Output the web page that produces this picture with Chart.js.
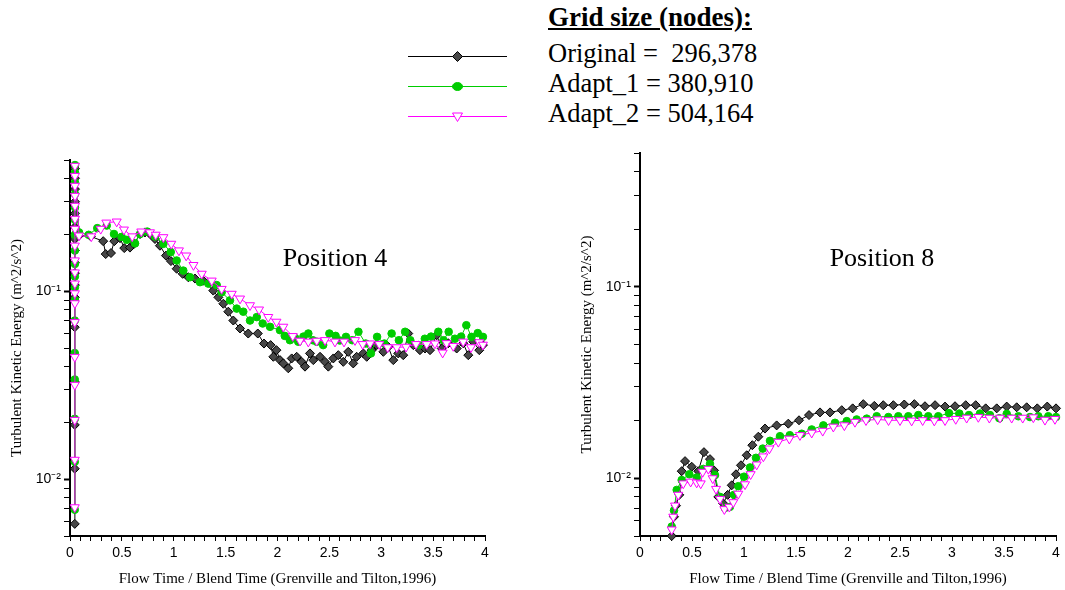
<!DOCTYPE html>
<html>
<head>
<meta charset="utf-8">
<script src="https://cdn.jsdelivr.net/npm/chart.js@4.4.1/dist/chart.umd.min.js"></script>
<style>
  body { margin: 0; background: #fff; width: 1065px; height: 590px; position: relative; overflow: hidden;
         font-family: "Liberation Serif", "Times New Roman", serif; color: #000; }
  .abs { position: absolute; }
  canvas { display: block; }
  #legend-title { left: 548px; top: 4px; font-size: 27px; line-height: 27px; font-weight: bold; text-decoration: underline; }
  .legend-row { left: 548px; font-size: 26.5px; line-height: 28px; white-space: pre; }
  .pos-label { width: 200px; text-align: center; top: 243px; font-size: 26px; line-height: 30px; }
</style>
</head>
<body>
<div class="abs" id="legend-title">Grid size (nodes):</div>
<div id="legend-rows"></div>
<canvas id="legend-marks" class="abs" style="left:400px;top:40px" width="120" height="90"></canvas>
<div class="abs" style="left:0;top:140px"><canvas id="pos4" width="520" height="450"></canvas></div>
<div class="abs" style="left:570px;top:133px"><canvas id="pos8" width="495" height="457"></canvas></div>
<div class="abs pos-label" id="label4" style="left:235px"></div>
<div class="abs pos-label" id="label8" style="left:782px"></div>
<script>
// series labels / titles
var seriesNames = ['Original =  296,378', 'Adapt_1 = 380,910', 'Adapt_2 = 504,164'];
var panelTitles = ['Position 4', 'Position 8'];
var xTitle = 'Flow Time / Blend Time (Grenville and Tilton,1996)';
var yTitle = 'Turbulent Kinetic Energy (m^2/s^2)';
var xMin = 0, xMax = 4, xStep = 0.1, xLabelStep = 0.5;
var yMin = 0.005, yMax = 0.5;

// Position 4: [flow time / blend time, TKE]
var pos4Original = [
  [0.046,0.0058],[0.046,0.0114],[0.046,0.0195],[0.046,0.033],[0.046,0.0645],[0.046,0.093],[0.047,0.108],[0.047,0.125],[0.047,0.142],
  [0.047,0.165],[0.047,0.19],[0.047,0.22],[0.048,0.26],[0.048,0.30],[0.048,0.35],[0.048,0.40],[0.048,0.45],
  [0.087,0.198],[0.20,0.196],[0.32,0.185],[0.344,0.158],[0.395,0.160],[0.427,0.185],[0.482,0.192],[0.523,0.170],[0.578,0.171],[0.617,0.179],
  [0.675,0.202],[0.723,0.206],[0.771,0.202],[0.819,0.190],[0.867,0.175],[0.925,0.155],[0.973,0.145],[1.028,0.132],[1.086,0.124],[1.14,0.119],
  [1.205,0.117],[1.285,0.114],[1.381,0.101],[1.43,0.093],[1.478,0.086],[1.526,0.078],[1.574,0.070],[1.639,0.0635],[1.718,0.0597],[1.81,0.0597],
  [1.87,0.0528],[1.934,0.0518],[1.96,0.0449],[1.99,0.0487],
  [2.024,0.0431],[2.056,0.0414],[2.104,0.039],[2.137,0.044],[2.185,0.0449],[2.233,0.0422],[2.265,0.0398],[2.313,0.0468],[2.345,0.0431],[2.41,0.0449],
  [2.458,0.0422],[2.49,0.0398],[2.538,0.044],[2.586,0.0458],[2.634,0.0422],[2.682,0.0477],[2.73,0.0414],[2.763,0.0449],[2.827,0.0468],[2.86,0.0449],
  [2.908,0.0487],[2.956,0.0518],[3.02,0.0477],[3.068,0.0507],[3.116,0.0431],[3.164,0.0468],[3.212,0.0458],[3.26,0.0597],[3.309,0.0518],[3.373,0.0487],
  [3.422,0.0497],[3.47,0.0487],[3.534,0.0585],[3.583,0.0497],[3.646,0.053],[3.727,0.0497],[3.79,0.053],[3.839,0.0458],[3.887,0.054],[3.945,0.0487],
  [3.98,0.0518]
];
var pos4Adapt1 = [
  [0.046,0.0069],[0.046,0.0124],[0.046,0.021],[0.046,0.034],[0.046,0.047],[0.046,0.07],[0.047,0.09],[0.047,0.105],[0.047,0.12],
  [0.047,0.14],[0.047,0.165],[0.047,0.2],[0.048,0.24],[0.048,0.28],[0.048,0.33],[0.048,0.38],[0.048,0.43],[0.048,0.47],
  [0.087,0.206],[0.18,0.200],[0.263,0.217],[0.354,0.224],[0.424,0.202],[0.498,0.195],[0.547,0.188],[0.627,0.180],[0.675,0.202],[0.745,0.208],
  [0.819,0.196],[0.90,0.179],[0.971,0.162],[1.028,0.146],[1.092,0.129],[1.157,0.119],[1.253,0.112],[1.333,0.110],[1.414,0.108],[1.462,0.099],
  [1.542,0.0896],[1.607,0.081],[1.67,0.078],[1.735,0.070],[1.80,0.073],[1.857,0.0675],[1.928,0.0648],
  [2.024,0.0622],[2.07,0.058],[2.12,0.055],[2.17,0.0565],[2.2,0.054],[2.25,0.0575],[2.297,0.0597],[2.34,0.055],[2.378,0.054],[2.44,0.0518],
  [2.5,0.0597],[2.56,0.058],[2.6,0.0548],[2.66,0.0573],[2.72,0.055],[2.78,0.061],[2.85,0.0528],[2.9,0.0468],[2.96,0.0573],[3.03,0.0528],
  [3.1,0.0597],[3.17,0.055],[3.23,0.061],[3.28,0.055],[3.36,0.0518],[3.42,0.056],[3.48,0.0575],[3.55,0.061],[3.6,0.055],[3.65,0.061],
  [3.71,0.056],[3.77,0.0575],[3.82,0.0661],[3.87,0.0573],[3.93,0.06],[3.98,0.0573]
];
var pos4Adapt2 = [
  [0.046,0.0071],[0.046,0.0127],[0.046,0.0207],[0.046,0.0318],[0.046,0.0448],[0.046,0.0686],[0.047,0.0864],[0.047,0.0976],[0.047,0.110],
  [0.047,0.126],[0.047,0.146],[0.047,0.175],[0.048,0.215],[0.048,0.243],[0.048,0.285],[0.048,0.322],[0.048,0.364],[0.048,0.411],[0.048,0.465],
  [0.087,0.198],[0.205,0.196],[0.296,0.215],[0.35,0.232],[0.45,0.235],[0.52,0.213],[0.60,0.196],[0.687,0.208],[0.771,0.206],[0.826,0.200],
  [0.90,0.194],[0.976,0.179],[1.05,0.165],[1.12,0.155],[1.19,0.138],[1.27,0.124],[1.366,0.114],[1.462,0.103],[1.559,0.097],[1.639,0.0915],
  [1.735,0.0843],[1.822,0.080],[1.911,0.073],[1.99,0.0689],[2.056,0.0648],[2.147,0.0578],[2.217,0.0546],[2.297,0.054],[2.378,0.0546],[2.458,0.055],
  [2.554,0.054],[2.641,0.054],[2.747,0.055],[2.821,0.0524],[2.892,0.0528],[2.981,0.0524],[3.062,0.0504],[3.149,0.0504],[3.239,0.0507],[3.335,0.0524],
  [3.438,0.0524],[3.518,0.0528],[3.592,0.0472],[3.63,0.053],[3.694,0.0512],[3.79,0.054],[3.865,0.0504],[3.945,0.0536],[3.98,0.052]
];

// Position 8
var pos8Original = [
  [0.305,0.0050],[0.327,0.0063],[0.346,0.0072],[0.378,0.0082],[0.401,0.0109],[0.433,0.0123],[0.497,0.0115],[0.56,0.0109],[0.615,0.0137],[0.673,0.0126],
  [0.712,0.0110],[0.753,0.0080],[0.80,0.0074],[0.843,0.0082],[0.882,0.0092],[0.923,0.0105],[0.971,0.0117],[1.026,0.0132],[1.08,0.0149],[1.138,0.0165],
  [1.202,0.0182],[1.314,0.0189],[1.426,0.0193],[1.529,0.0201],[1.625,0.0214],[1.731,0.0221],[1.827,0.0221],[1.94,0.0227],[2.045,0.0232],[2.147,0.0244],
  [2.253,0.0239],[2.339,0.0241],[2.436,0.0241],[2.541,0.0243],[2.638,0.0244],[2.74,0.0238],[2.837,0.0241],[2.933,0.0237],[3.029,0.0238],[3.132,0.0241],
  [3.228,0.0241],[3.324,0.0232],[3.43,0.0232],[3.526,0.0237],[3.622,0.0235],[3.718,0.0235],[3.82,0.0232],[3.916,0.0237],[4.0,0.0232]
];
var pos8Adapt1 = [
  [0.305,0.0056],[0.327,0.0068],[0.353,0.0087],[0.401,0.0098],[0.474,0.0105],[0.545,0.0101],[0.609,0.0112],[0.673,0.0119],[0.721,0.0104],[0.769,0.0080],
  [0.817,0.0070],[0.865,0.0071],[0.904,0.0082],[0.945,0.0091],[1.0,0.0102],[1.058,0.0114],[1.115,0.0128],[1.18,0.0143],[1.25,0.0157],[1.346,0.0166],
  [1.44,0.0168],[1.555,0.0171],[1.651,0.0180],[1.763,0.0189],[1.875,0.0195],[1.988,0.0199],[2.083,0.0203],[2.18,0.0205],[2.276,0.0211],[2.388,0.0209],
  [2.484,0.0211],[2.58,0.0211],[2.676,0.0214],[2.772,0.0211],[2.868,0.0211],[2.971,0.0219],[3.07,0.0218],[3.163,0.0214],[3.269,0.0218],[3.365,0.0214],
  [3.455,0.0206],[3.526,0.0217],[3.638,0.0211],[3.75,0.0209],[3.83,0.0211],[3.926,0.0211],[4.0,0.0209]
];
var pos8Adapt2 = [
  [0.305,0.0054],[0.32,0.0063],[0.337,0.0072],[0.368,0.0082],[0.416,0.0094],[0.487,0.0096],[0.545,0.0095],[0.584,0.0094],[0.603,0.0108],[0.657,0.0112],
  [0.699,0.0100],[0.731,0.0088],[0.769,0.0078],[0.811,0.0069],[0.859,0.0071],[0.897,0.0075],[0.945,0.0083],[1.01,0.0093],[1.064,0.0105],[1.122,0.0118],
  [1.186,0.0130],[1.244,0.0143],[1.33,0.0155],[1.436,0.0161],[1.538,0.0168],[1.651,0.0173],[1.757,0.0177],[1.859,0.0186],[1.965,0.0189],[2.067,0.0197],
  [2.173,0.0201],[2.285,0.0203],[2.39,0.0201],[2.5,0.0201],[2.612,0.0200],[2.718,0.0201],[2.83,0.0200],[2.933,0.0201],[3.036,0.0204],[3.141,0.0207],
  [3.253,0.0209],[3.359,0.0207],[3.462,0.0207],[3.574,0.0207],[3.68,0.0207],[3.782,0.0208],[3.894,0.0202],[3.99,0.0204]
];

var styles = [
  { line: '#000000', fill: '#474747', border: '#000000', shape: 'rectRot', radius: 4.5, rotation: 0, order: 2 },
  { line: '#00cc00', fill: '#00cc00', border: '#00cc00', shape: 'circle', radius: 3.8, rotation: 0, order: 1 },
  { line: '#ff00ff', fill: '#ffffff', border: '#ff00ff', shape: 'triangle', radius: 5.2, rotation: 180, order: 0 }
];

var SERIF = "'Liberation Serif', 'Times New Roman', serif";
var SANS = "'Liberation Sans', Arial, sans-serif";

function toPoints(pairs) {
  return pairs.map(function(p) { return { x: p[0], y: p[1] }; });
}

function isDecade(v) {
  var e = Math.log10(v);
  return Math.abs(e - Math.round(e)) < 1e-9;
}

function supExp(n) {
  var map = { '-': '\u207B', '0': '\u2070', '1': '\u00B9', '2': '\u00B2', '3': '\u00B3' };
  return String(n).split('').map(function(c) { return map[c] || c; }).join('');
}

function makeChart(canvasId, seriesList, padding) {
  var datasets = seriesList.map(function(s, i) {
    var st = styles[i];
    return {
      label: seriesNames[i],
      data: toPoints(s),
      borderColor: st.line,
      borderWidth: 1,
      pointStyle: st.shape,
      pointRadius: st.radius,
      pointRotation: st.rotation,
      pointBackgroundColor: st.fill,
      pointBorderColor: st.border,
      pointBorderWidth: 1,
      tension: 0,
      clip: false,
      order: st.order
    };
  });

  return new Chart(document.getElementById(canvasId), {
    type: 'line',
    data: { datasets: datasets },
    options: {
      responsive: false,
      animation: false,
      layout: { padding: padding },
      plugins: { legend: { display: false }, tooltip: { enabled: false } },
      scales: {
        x: {
          type: 'linear', min: xMin, max: xMax,
          afterFit: function(scale) { scale.height = 54; },
          border: { color: '#000', width: 2 },
          grid: { drawOnChartArea: false, color: '#000', tickLength: 5, tickWidth: 1 },
          ticks: {
            stepSize: xStep, maxTicksLimit: 100, autoSkip: false, maxRotation: 0,
            color: '#000', padding: 4, font: { family: SANS, size: 14 },
            callback: function(v) {
              var h = v / xLabelStep;
              return Math.abs(h - Math.round(h)) < 1e-6 ? String(Math.round(h) * xLabelStep) : '';
            }
          },
          title: { display: true, text: xTitle, color: '#000', font: { family: SERIF, size: 15 }, padding: { top: 0, bottom: 2 } }
        },
        y: {
          type: 'logarithmic', min: yMin, max: yMax,
          afterFit: function(scale) { scale.width = 70; },
          afterBuildTicks: function(scale) {
            // keep 1..9 x 10^n only
            scale.ticks = scale.ticks.filter(function(t) {
              var m = t.value / Math.pow(10, Math.floor(Math.log10(t.value) + 1e-9));
              return Math.abs(m - Math.round(m)) < 1e-6;
            });
          },
          border: { color: '#000', width: 2 },
          grid: {
            drawOnChartArea: false, color: '#000', tickLength: 6,
            tickWidth: function(c) { return c.tick && isDecade(c.tick.value) ? 2 : 1; }
          },
          ticks: {
            autoSkip: false, color: '#000', padding: 3, font: { family: SANS, size: 14 },
            callback: function(v) {
              return isDecade(v) ? '10' + supExp(Math.round(Math.log10(v))) : '';
            }
          },
          title: { display: true, text: yTitle, color: '#000', font: { family: SERIF, size: 15 }, padding: { top: 8, bottom: 0 } }
        }
      }
    }
  });
}

function drawLegend() {
  var rows = document.getElementById('legend-rows');
  var baseTops = [39, 69, 99];
  seriesNames.forEach(function(name, i) {
    var d = document.createElement('div');
    d.className = 'abs legend-row';
    d.style.top = baseTops[i] + 'px';
    d.textContent = name;
    rows.appendChild(d);
  });

  var ctx = document.getElementById('legend-marks').getContext('2d');
  var ys = [16.5, 46.5, 76.5];
  styles.forEach(function(st, i) {
    var y = ys[i], cx = 57.5;
    ctx.strokeStyle = st.line;
    ctx.lineWidth = 1;
    ctx.beginPath(); ctx.moveTo(8, y); ctx.lineTo(107, y); ctx.stroke();
    ctx.fillStyle = st.fill;
    ctx.strokeStyle = st.border;
    ctx.beginPath();
    if (st.shape === 'rectRot') {
      ctx.moveTo(cx, y - 5); ctx.lineTo(cx + 5, y); ctx.lineTo(cx, y + 5); ctx.lineTo(cx - 5, y); ctx.closePath();
    } else if (st.shape === 'circle') {
      ctx.ellipse(cx, y, 5, 4, 0, 0, Math.PI * 2);
    } else {
      ctx.moveTo(cx - 5, y - 3.5); ctx.lineTo(cx + 5, y - 3.5); ctx.lineTo(cx, y + 5); ctx.closePath();
    }
    ctx.fill(); ctx.stroke();
  });
}

document.getElementById('label4').textContent = panelTitles[0];
document.getElementById('label8').textContent = panelTitles[1];
drawLegend();
makeChart('pos4', [pos4Original, pos4Adapt1, pos4Adapt2], { top: 20, right: 35, left: 0, bottom: 0 });
makeChart('pos8', [pos8Original, pos8Adapt1, pos8Adapt2], { top: 20, right: 9, left: 0, bottom: 0 });
</script>
</body>
</html>
